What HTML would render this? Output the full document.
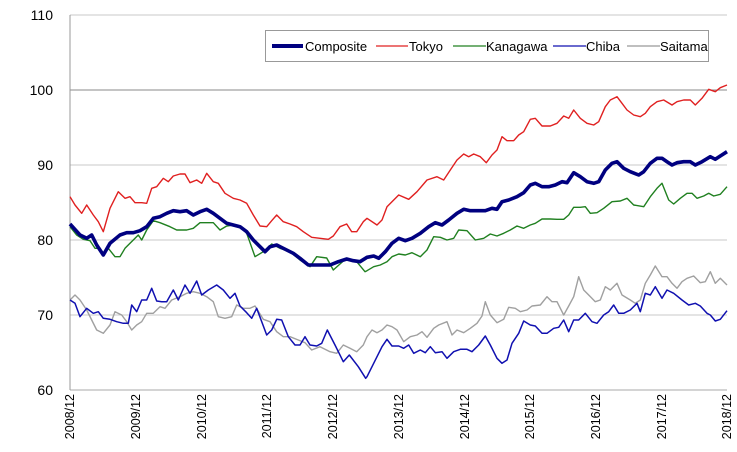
<!DOCTYPE html>
<html><head><meta charset="utf-8"><style>
html,body{margin:0;padding:0;background:#fff;}
svg{display:block;font-family:"Liberation Sans",sans-serif;}
</style></head><body>
<svg id="s" width="737" height="452" viewBox="0 0 737 452">
<g stroke="#c8c8c8" stroke-width="1">
<line x1="70" y1="15" x2="727" y2="15"/>
<line x1="70" y1="165" x2="727" y2="165"/>
<line x1="70" y1="240" x2="727" y2="240"/>
<line x1="70" y1="315" x2="727" y2="315"/>
</g>
<line x1="70" y1="90" x2="727" y2="90" stroke="#888" stroke-width="1"/>
<line x1="70" y1="390" x2="727" y2="390" stroke="#aaa" stroke-width="1"/>
<line x1="70" y1="15" x2="70" y2="390" stroke="#999" stroke-width="1"/>
<g font-size="14" fill="#000" text-anchor="end">
<text x="53" y="20">110</text><text x="53" y="95">100</text><text x="53" y="170">90</text>
<text x="53" y="245">80</text><text x="53" y="320">70</text><text x="53" y="395">60</text>
</g>
<g font-size="12.5" fill="#000" text-anchor="end">
<text transform="translate(74,394) rotate(-90)">2008/12</text>
<text transform="translate(140,394) rotate(-90)">2009/12</text>
<text transform="translate(206,394) rotate(-90)">2010/12</text>
<text transform="translate(271,394) rotate(-90)">2011/12</text>
<text transform="translate(337,394) rotate(-90)">2012/12</text>
<text transform="translate(403,394) rotate(-90)">2013/12</text>
<text transform="translate(469,394) rotate(-90)">2014/12</text>
<text transform="translate(534,394) rotate(-90)">2015/12</text>
<text transform="translate(600,394) rotate(-90)">2016/12</text>
<text transform="translate(666,394) rotate(-90)">2017/12</text>
<text transform="translate(731,394) rotate(-90)">2018/12</text>
</g>
<g id="lines" fill="none" stroke-linejoin="round"></g>
<rect x="265.5" y="30.5" width="443" height="31" fill="#fff" stroke="#999"/>
<g font-size="13" fill="#000">
<line x1="272" y1="46" x2="303" y2="46" stroke="#000080" stroke-width="4"/><text x="305" y="51">Composite</text>
<line x1="376" y1="46" x2="408" y2="46" stroke="#e02020" stroke-width="1.3"/><text x="409" y="51">Tokyo</text>
<line x1="453" y1="46" x2="486" y2="46" stroke="#208020" stroke-width="1.3"/><text x="486" y="51">Kanagawa</text>
<line x1="553" y1="46" x2="586" y2="46" stroke="#1010b0" stroke-width="1.3"/><text x="586" y="51">Chiba</text>
<line x1="627" y1="46" x2="660" y2="46" stroke="#999" stroke-width="1.3"/><text x="660" y="51">Saitama</text>
</g>
</svg>
<script>
var S={
sai:{c:"#a0a0a0",w:1.4,L:[210,900,225,885,240,900,260,930,275,960,290,990,310,1000,330,975,345,935,365,945,380,965,395,990,410,975,425,965,440,940,460,940,480,920,495,925,515,900,540,890,560,880,580,875,600,880,620,890,640,905,655,950,675,955,695,950,710,915,730,925,750,925,765,918,790,958,810,965,830,995,850,1010,870,1010,895,1020,915,1028,935,1050,960,1040,990,1055,1010,1060,1030,1035,1050,1045,1070,1055,1090,1035,1101,1010],
R:[0,1010,15,990,30,998,45,990,60,975,75,980,90,990,110,1025,130,1010,150,1005,165,995,180,1012,200,985,215,975,240,965,255,1005,270,990,290,998,310,985,330,970,345,948,355,905,370,945,390,968,410,958,425,922,445,925,460,935,480,930,495,918,520,915,540,890,555,905,570,905,590,945,605,918,620,890,635,830,650,870,665,885,685,905,700,900,715,860,730,870,750,850,765,885,790,900,805,910,820,900,835,850,850,825,865,798,885,830,900,830,915,850,930,865,945,845,960,835,980,828,1000,848,1015,845,1030,815,1045,850,1060,835,1080,855]},
chi:{c:"#1010b0",w:1.5,L:[210,900,225,910,240,950,260,925,280,940,295,935,310,955,330,958,350,965,370,970,385,970,395,915,410,935,425,900,440,900,455,865,470,903,485,905,500,905,520,870,535,900,555,855,570,880,590,843,605,885,625,870,650,855,670,870,690,895,705,880,720,918,740,938,755,955,770,925,800,1005,815,990,830,958,845,960,865,1010,885,1035,900,1035,915,1010,930,1035,950,1038,965,1030,982,990,1005,1035,1030,1085,1048,1065,1075,1100,1097,1135,1101,1130],
R:[0,1130,15,1100,30,1070,45,1040,60,1018,75,1038,95,1038,110,1045,125,1035,140,1060,160,1050,175,1058,190,1040,205,1058,225,1055,240,1075,260,1055,280,1048,300,1048,315,1055,335,1035,355,1008,370,1035,390,1075,405,1090,420,1080,435,1030,455,1000,470,963,490,975,505,978,525,1000,540,1000,560,985,575,982,590,960,605,995,620,960,635,960,655,940,675,965,690,970,710,945,725,935,740,915,755,940,770,940,790,930,810,910,820,935,835,880,850,885,865,860,885,895,900,870,920,880,945,900,965,915,985,910,1000,918,1020,940,1030,945,1045,963,1060,958,1080,932]},
kan:{c:"#208020",w:1.4,L:[210,680,230,705,250,718,270,722,285,745,300,745,310,760,325,745,345,770,360,770,375,745,400,720,415,705,425,720,440,690,460,662,480,668,510,680,530,690,560,690,580,685,600,668,620,668,640,668,660,690,680,678,700,675,720,680,740,700,765,770,790,755,815,732,840,745,870,755,900,780,930,800,950,770,980,774,1000,810,1040,774,1070,785,1095,815,1101,812],
R:[0,812,20,800,40,795,60,785,75,770,95,762,115,765,135,758,160,770,180,750,200,710,220,712,240,720,260,715,275,690,300,692,325,720,350,715,370,702,390,708,410,700,430,690,450,678,470,685,490,675,505,670,525,657,550,657,570,658,590,658,605,645,620,622,640,622,655,620,670,640,690,638,710,625,735,605,760,603,780,595,800,615,830,620,850,590,870,565,885,550,905,600,920,612,940,595,960,580,975,580,990,595,1010,588,1025,580,1040,588,1060,583,1080,560]},
tok:{c:"#e02020",w:1.4,L:[210,590,225,615,245,640,260,615,280,645,295,665,310,695,330,625,355,575,375,595,390,590,405,608,425,608,440,610,455,565,470,560,490,535,505,545,520,528,540,522,555,522,570,548,590,540,605,550,620,520,640,545,655,550,675,580,700,595,720,600,740,610,760,645,780,678,800,680,815,662,830,645,850,665,870,672,890,680,910,695,935,712,960,715,985,718,1000,708,1020,680,1040,672,1055,695,1070,695,1090,665,1101,655],
R:[0,655,30,675,45,660,60,620,95,585,125,598,150,575,180,540,210,530,230,540,250,510,270,480,290,462,305,470,320,462,340,470,358,488,375,465,390,450,405,410,420,422,440,422,455,405,470,395,490,358,505,355,525,378,550,378,570,370,590,348,605,355,620,330,640,355,660,370,680,375,695,365,715,320,730,300,750,290,765,310,780,330,800,345,820,350,835,340,850,320,870,305,890,300,915,315,930,305,950,300,970,300,985,315,1005,295,1025,268,1045,275,1060,263,1080,255]},
com:{c:"#000080",w:3.6,L:[210,672,240,705,260,715,275,705,290,735,310,765,330,730,360,705,380,698,400,698,420,692,440,680,460,655,480,650,500,640,520,632,540,635,560,632,580,645,600,635,620,628,640,640,660,655,680,670,700,675,720,680,740,695,760,720,780,740,795,755,810,740,830,735,850,745,880,760,900,775,925,795,960,795,990,795,1015,785,1040,777,1060,782,1080,785,1101,772],
R:[0,772,20,768,35,775,55,755,75,730,95,715,115,722,135,715,160,700,185,680,205,668,225,675,245,660,270,640,290,628,310,632,355,632,375,625,390,628,405,605,425,600,450,590,470,578,490,555,505,550,525,560,545,560,565,555,585,545,600,548,620,518,640,530,660,545,680,550,695,545,715,510,735,490,750,485,770,505,790,515,815,525,830,515,850,490,870,475,885,475,900,485,915,495,930,488,950,485,970,485,985,495,1005,485,1030,470,1045,478,1060,468,1080,455]}
};
var g=document.getElementById("lines"),ns="http://www.w3.org/2000/svg";
["sai","chi","kan","tok","com"].forEach(function(k){var s=S[k],p=[];
for(var i=0;i<s.L.length;i+=2)p.push((s.L[i]/3).toFixed(1)+","+(s.L[i+1]/3).toFixed(1));
for(var i=0;i<s.R.length;i+=2)p.push((367+s.R[i]/3).toFixed(1)+","+(s.R[i+1]/3).toFixed(1));
var e=document.createElementNS(ns,"polyline");e.setAttribute("points",p.join(" "));
e.setAttribute("stroke",s.c);e.setAttribute("stroke-width",s.w);g.appendChild(e);});
</script>
</body></html>
